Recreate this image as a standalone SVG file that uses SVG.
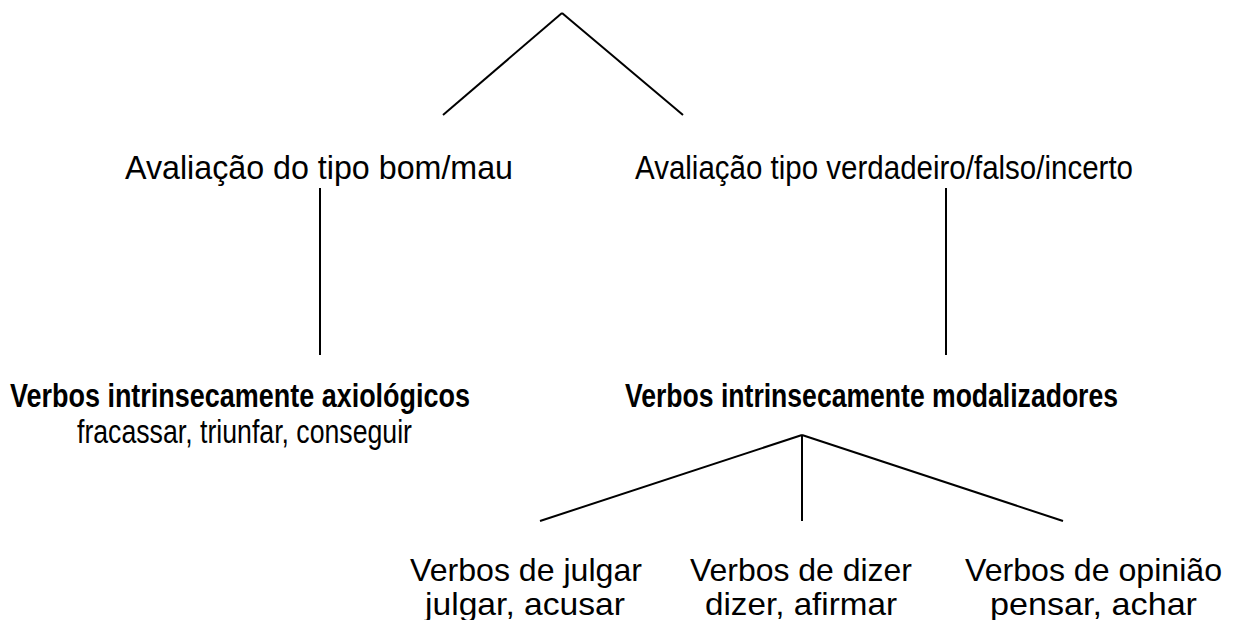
<svg xmlns="http://www.w3.org/2000/svg" width="1237" height="620" viewBox="0 0 1237 620">
<style>
.t{font-family:"Liberation Sans",Arial,sans-serif;font-size:33px;fill:#000;text-anchor:middle}
.b{font-weight:bold;font-size:34px}
.m{font-size:34px}
.s{font-size:32px}
.c{stroke:#000;stroke-width:2;fill:none}
</style>
<rect width="1237" height="620" fill="#fff"/>
<g id="connectors">
<line class="c" x1="562" y1="13" x2="443" y2="115"/>
<line class="c" x1="562" y1="13" x2="683" y2="115"/>
<line class="c" x1="320" y1="188" x2="320" y2="355"/>
<line class="c" x1="946" y1="188" x2="946" y2="355"/>
<line class="c" x1="802" y1="435" x2="540" y2="521"/>
<line class="c" x1="802" y1="435" x2="802" y2="521"/>
<line class="c" x1="802" y1="435" x2="1063" y2="521"/>
</g>
<g id="n-bommau"><text class="t" x="319" y="179" textLength="388" lengthAdjust="spacingAndGlyphs">Avaliação do tipo bom/mau</text></g>
<g id="n-verdadeiro"><text class="t" x="884" y="179" textLength="498" lengthAdjust="spacingAndGlyphs">Avaliação tipo verdadeiro/falso/incerto</text></g>
<g id="n-axiologicos"><text class="t b" x="240" y="407" textLength="460" lengthAdjust="spacingAndGlyphs">Verbos intrinsecamente axiológicos</text><text class="t m" x="244.5" y="443" textLength="335" lengthAdjust="spacingAndGlyphs">fracassar, triunfar, conseguir</text></g>
<g id="n-modalizadores"><text class="t b" x="871.5" y="407" textLength="493" lengthAdjust="spacingAndGlyphs">Verbos intrinsecamente modalizadores</text></g>
<g id="n-julgar"><text class="t s" x="526" y="581" textLength="232" lengthAdjust="spacingAndGlyphs">Verbos de julgar</text><text class="t s" x="525" y="615" textLength="200" lengthAdjust="spacingAndGlyphs">julgar, acusar</text></g>
<g id="n-dizer"><text class="t s" x="801" y="581" textLength="222" lengthAdjust="spacingAndGlyphs">Verbos de dizer</text><text class="t s" x="801" y="615" textLength="192" lengthAdjust="spacingAndGlyphs">dizer, afirmar</text></g>
<g id="n-opiniao"><text class="t s" x="1093.5" y="581" textLength="257" lengthAdjust="spacingAndGlyphs">Verbos de opinião</text><text class="t s" x="1093.5" y="615" textLength="207" lengthAdjust="spacingAndGlyphs">pensar, achar</text></g>
</svg>
